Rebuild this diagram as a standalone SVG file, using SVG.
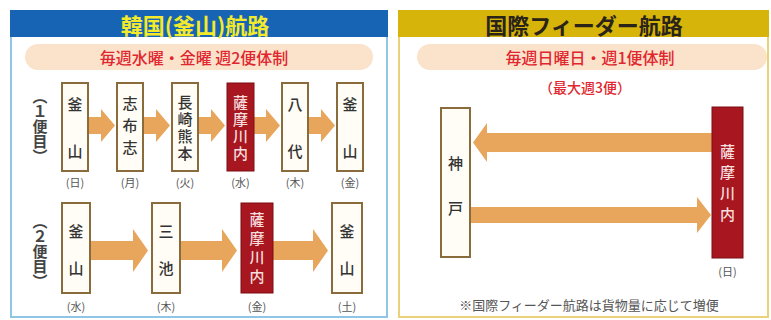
<svg xmlns="http://www.w3.org/2000/svg" width="771" height="320" viewBox="0 0 771 320">
<defs>
<style>
text{font-family:"Noto Sans CJK JP","Noto Sans",sans-serif;text-anchor:middle;dominant-baseline:central}
.v{writing-mode:vertical-rl;text-orientation:mixed}
.box{fill:#fffdf6;stroke:#8a6c3c;stroke-width:2}
.rbox{fill:#a8161f;stroke:#7a0e14;stroke-width:1}
.bt{font-size:15px;fill:#333;font-weight:500}
.rt{font-size:15px;fill:#f6dede;font-weight:500}
.day{font-size:11px;fill:#555}
.lbl{font-size:15px;fill:#444;font-weight:700;writing-mode:vertical-rl;text-orientation:mixed}
.arr{fill:#e8a55c}
.pill{fill:#fbe2cb}
.ptx{font-size:16px;fill:#e0262e;font-weight:500}
</style>
</defs>
<rect width="771" height="320" fill="#ffffff"/>
<!-- left panel -->
<g id="left-panel">
<rect x="11" y="11" width="376" height="306" fill="#ffffff" stroke="#8fc6e6" stroke-width="2"/>
<rect x="10" y="10" width="378" height="27" fill="#1764b4"/>
<text x="195" y="24" font-size="22" font-weight="700" fill="#f3ea2c">韓国(釜山)航路</text>
<rect class="pill" x="25" y="44" width="348" height="26" rx="13"/>
<text class="ptx" x="194" y="57">毎週水曜・金曜 週2便体制</text>
</g>
<g id="row1-label">
<text class="lbl" x="40" y="126">（１便目）</text>
</g>
<g id="row2-label">
<text class="lbl" x="40" y="251">（２便目）</text>
</g>
<g id="connectors">
<!-- row 1 -->
<polygon class="arr" points="88,117 101,117 101,109 115,125.5 101,142 101,134 88,134"/>
<polygon class="arr" points="143,117 156,117 156,109 170,125.5 156,142 156,134 143,134"/>
<polygon class="arr" points="198,117 211,117 211,109 225,125.5 211,142 211,134 198,134"/>
<polygon class="arr" points="254,117 266,117 266,109 280,125.5 266,142 266,134 254,134"/>
<polygon class="arr" points="308,117 321,117 321,109 335,125.5 321,142 321,134 308,134"/>
<!-- row 2 -->
<polygon class="arr" points="90,241 133,241 133,229 148,250.5 133,272 133,260 90,260"/>
<polygon class="arr" points="180,241 222,241 222,229 237,250.5 222,272 222,260 180,260"/>
<polygon class="arr" points="273,241 313,241 313,229 328,250.5 313,272 313,260 273,260"/>
<!-- right -->
<polygon class="arr" points="712,133 487,133 487,123 473,142.5 487,162 487,152 712,152"/>
<polygon class="arr" points="470,207 697,207 697,197 711,215 697,233 697,223 470,223"/>
</g>
<g id="n-busan1"><rect class="box" x="62" y="83" width="26" height="88"/><text class="bt" x="75" y="103">釜</text><text class="bt" x="75" y="150">山</text><text class="day" x="75" y="182">(日)</text></g>
<g id="n-shibushi"><rect class="box" x="117" y="83" width="26" height="88"/><text class="bt v" x="130" y="128.5" letter-spacing="7">志布志</text><text class="day" x="130" y="182">(月)</text></g>
<g id="n-nagasaki"><rect class="box" x="172" y="83" width="26" height="88"/><text class="bt v" x="185" y="128.5" letter-spacing="2">長崎熊本</text><text class="day" x="185" y="182">(火)</text></g>
<g id="n-sendai1"><rect class="rbox" x="227" y="83" width="27" height="88"/><text class="rt v" x="240.5" y="128.5" letter-spacing="2">薩摩川内</text><text class="day" x="240.5" y="182">(水)</text></g>
<g id="n-yatsushiro"><rect class="box" x="282" y="83" width="26" height="88"/><text class="bt" x="295" y="103">八</text><text class="bt" x="295" y="150">代</text><text class="day" x="295" y="182">(木)</text></g>
<g id="n-busan2"><rect class="box" x="337" y="83" width="26" height="88"/><text class="bt" x="350" y="103">釜</text><text class="bt" x="350" y="150">山</text><text class="day" x="350" y="182">(金)</text></g>
<g id="n-busan3"><rect class="box" x="62" y="203" width="28" height="90"/><text class="bt" x="76" y="230">釜</text><text class="bt" x="76" y="267">山</text><text class="day" x="76" y="306">(水)</text></g>
<g id="n-miike"><rect class="box" x="152" y="203" width="28" height="90"/><text class="bt" x="166" y="230">三</text><text class="bt" x="166" y="267">池</text><text class="day" x="166" y="306">(木)</text></g>
<g id="n-sendai2"><rect class="rbox" x="241" y="203" width="32" height="90"/><text class="rt v" x="257" y="250" letter-spacing="4">薩摩川内</text><text class="day" x="257" y="306">(金)</text></g>
<g id="n-busan4"><rect class="box" x="332" y="203" width="30" height="90"/><text class="bt" x="347" y="230">釜</text><text class="bt" x="347" y="267">山</text><text class="day" x="347" y="306">(土)</text></g>
<!-- right panel -->
<g id="right-panel">
<rect x="399" y="11" width="369" height="306" fill="none" stroke="#ead27a" stroke-width="2"/>
<rect x="398" y="10" width="371" height="27" fill="#d6b40a"/>
<text x="584" y="24" font-size="22" font-weight="700" fill="#2a2418">国際フィーダー航路</text>
<rect class="pill" x="417" y="44" width="350" height="26" rx="13"/>
<text class="ptx" x="590" y="57">毎週日曜日・週1便体制</text>
<text x="585" y="87" font-size="14" font-weight="500" fill="#e0262e">（最大週3便）</text>
<text x="589" y="304" font-size="13" fill="#555">※国際フィーダー航路は貨物量に応じて増便</text>
</g>
<g id="n-kobe"><rect class="box" x="441" y="108" width="29" height="149"/><text class="bt" x="455.5" y="162">神</text><text class="bt" x="455.5" y="207">戸</text></g>
<g id="n-sendai3"><rect class="rbox" x="712" y="107" width="31" height="151"/><text class="rt v" x="727.5" y="185.5" letter-spacing="6">薩摩川内</text><text class="day" x="727.5" y="271">(日)</text></g>
</svg>
